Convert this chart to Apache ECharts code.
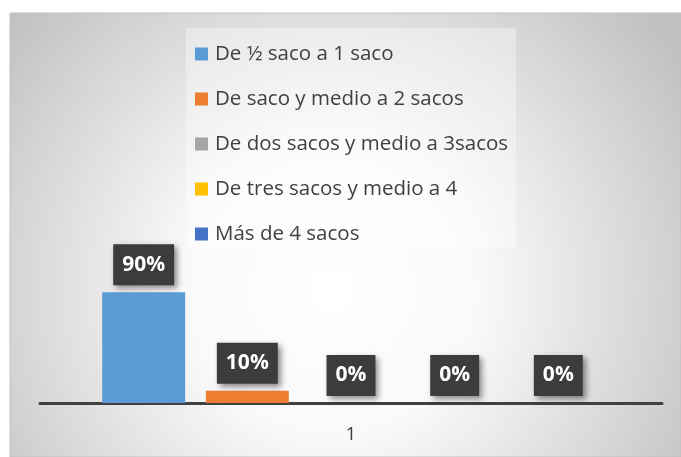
<!DOCTYPE html>
<html><head><meta charset="utf-8">
<script src="https://cdn.jsdelivr.net/npm/echarts@6/dist/echarts.min.js"></script>
<style>html,body{margin:0;padding:0;background:#fff}#c{width:681px;height:457px}</style>
</head><body><div id="c"></div>
<script>
var categories = ['1'];
var seriesNames = ['De ½ saco a 1 saco','De saco y medio a 2 sacos','De dos sacos y medio a 3sacos','De tres sacos y medio a 4','Más de 4 sacos'];
var seriesValues = [[0.90],[0.10],[0],[0],[0]];
var seriesColors = ['#5B9BD5','#ED7D31','#A5A5A5','#FFC000','#4472C4'];
var FONT = 'Open Sans';

var chart = echarts.init(document.getElementById('c'));
var series = seriesNames.map(function(n,i){
  return {
    name:n, type:'bar', data:seriesValues[i],
    itemStyle:{color:seriesColors[i]},
    barGap:'25%', barCategoryGap:'20%',
    label:{show:true, position:'top', distance:7,
      formatter:function(p){return Math.round(p.value*100)+'%';},
      color:'#fff', fontFamily:FONT, fontWeight:'bold', fontSize:21, lineHeight:23,
      backgroundColor:'#3c3c3c', padding:[9,9,9,9],
      shadowBlur:6, shadowColor:'rgba(0,0,0,0.45)', shadowOffsetX:3, shadowOffsetY:3}
  };
});
chart.setOption({
  animation:false,
  graphic:[
    {type:'rect', z:-10, shape:{x:10,y:13,width:671,height:444},
     style:{fill:{type:'radial',x:0.48,y:0.62,r:0.95,colorStops:[{offset:0,color:'#ffffff'},{offset:0.35,color:'#f9f9f9'},{offset:1,color:'#c0c0c0'}]}, stroke:'#c0c0c0', lineWidth:1}},
    {type:'rect', z:-9, shape:{x:186,y:28,width:330,height:220}, style:{fill:'rgba(255,255,255,0.35)'}}
  ],
  legend:{orient:'vertical', left:190, top:38, itemWidth:13, itemHeight:13, itemGap:23,
    icon:'rect', textStyle:{fontFamily:FONT, fontSize:20.5, color:'#404040', lineHeight:22, padding:[0,0,0,2]}, data:seriesNames},
  grid:{left:40, right:19, top:280, bottom:54},
  xAxis:{type:'category', data:categories,
    axisLine:{lineStyle:{color:'#404040', width:3}}, axisTick:{show:false},
    axisLabel:{fontFamily:FONT, fontSize:19, color:'#404040', margin:22}},
  yAxis:{type:'value', min:0, max:1, show:false, splitLine:{show:false}},
  series:series
});
</script></body></html>
